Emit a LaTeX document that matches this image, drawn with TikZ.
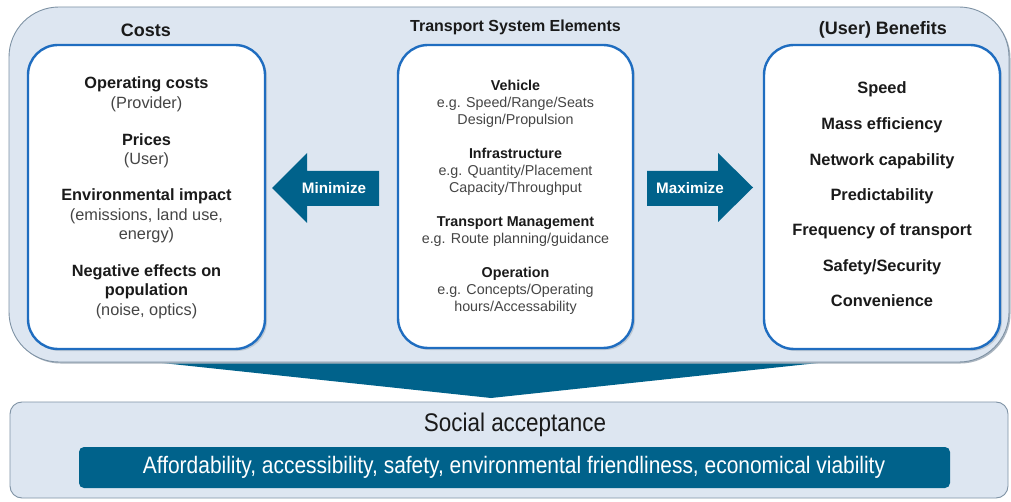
\documentclass[tikz,border=0pt]{standalone}
\usepackage{fontspec}
\setmainfont{Liberation Sans}
\newfontfamily\narrowfont[FakeStretch=0.88]{Liberation Sans}
\definecolor{panelfill}{HTML}{DDE6F1}
\definecolor{panelline}{HTML}{7F93A5}
\definecolor{shadowc}{HTML}{A9B4BF}
\definecolor{boxline}{HTML}{1F6DC0}
\definecolor{tealc}{HTML}{00628B}
\definecolor{txt}{HTML}{1A1A1A}
\definecolor{subtxt}{HTML}{454545}
\tikzset{
  panel/.style={fill=panelfill, draw=panelline, line width=0.9pt},
  itembox/.style={fill=white, draw=boxline, line width=2.4pt, rounded corners=30pt},
  boxshadow/.style={fill=shadowc, opacity=0.6, rounded corners=30pt},
  arrowshape/.style={fill=tealc},
  title/.style={font=\fontsize{18}{21}\selectfont\bfseries, text=txt, inner sep=0pt},
  midtitle/.style={font=\fontsize{16}{19}\selectfont\bfseries, text=txt, inner sep=0pt},
  costitem/.style={font=\fontsize{16.3}{19.5}\selectfont, text=subtxt, align=center, inner sep=0pt},
  miditem/.style={font=\fontsize{14.3}{17}\selectfont, text=subtxt, align=center, inner sep=0pt},
  benitem/.style={font=\fontsize{16.4}{19}\selectfont\bfseries, text=txt, inner sep=0pt},
  arrowtext/.style={font=\fontsize{15.2}{18}\selectfont\bfseries, text=white, inner sep=0pt},
}
\newcommand{\hd}[1]{{\bfseries\color{txt}#1}}
\begin{document}
\begin{tikzpicture}[x=1pt,y=-1pt]
\useasboundingbox (0,0) rectangle (1011,502);
\fill[white] (0,0) rectangle (1011,502);

% big downward chevron (behind panel)
\fill[tealc] (134,360) -- (846,360) -- (491,398) -- cycle;

% top panel with shadow
\fill[shadowc, rounded corners=50pt] (10.5,8.5) rectangle (1010.5,363.5);
\draw[panel, rounded corners=50pt] (9,7) rectangle (1009,362);

% three boxes
\fill[boxshadow] (30,47) rectangle (267,351);
\fill[boxshadow] (400,47) rectangle (635,350);
\fill[boxshadow] (766,47) rectangle (1002,351);
\draw[itembox] (28,45) rectangle (265,349);
\draw[itembox] (398,45) rectangle (633,348);
\draw[itembox] (764,45) rectangle (1000,349);

% titles
\node[title] (tcost) at (146,30) {Costs};
\node[midtitle] (tmid) at (515.5,27) {Transport System Elements};
\node[title] (tben) at (883,30) {(User) Benefits};

% cost items
\node[costitem] (c1) at (146.5,94.5) {\hd{Operating costs}\\(Provider)};
\node[costitem] (c2) at (146.5,151) {\hd{Prices}\\(User)};
\node[costitem] (c3) at (146.5,216) {\hd{Environmental impact}\\(emissions, land use,\\energy)};
\node[costitem] (c4) at (146.5,291.5) {\hd{Negative effects on}\\\hd{population}\\(noise, optics)};

% middle items
\node[miditem] (m1) at (515.5,104) {\hd{Vehicle}\\e.g. Speed/Range/Seats\\Design/Propulsion};
\node[miditem] (m2) at (515.5,172) {\hd{Infrastructure}\\e.g. Quantity/Placement\\Capacity/Throughput};
\node[miditem] (m3) at (515.5,232) {\hd{Transport Management}\\e.g. Route planning/guidance};
\node[miditem] (m4) at (515.5,291) {\hd{Operation}\\e.g. Concepts/Operating\\hours/Accessability};

% benefit items
\node[benitem] (b1) at (882,89) {Speed};
\node[benitem] (b2) at (882,125) {Mass efficiency};
\node[benitem] (b3) at (882,161) {Network capability};
\node[benitem] (b4) at (882,196) {Predictability};
\node[benitem] (b5) at (882,231) {Frequency of transport};
\node[benitem] (b6) at (882,267) {Safety/Security};
\node[benitem] (b7) at (882,301) {Convenience};

% minimize arrow
\fill[arrowshape] (379,171) -- (307,171) -- (307,153) -- (272,188) -- (307,223) -- (307,206) -- (379,206) -- cycle;
\node[arrowtext] (mini) at (334,188) {Minimize};
% maximize arrow
\fill[arrowshape] (647,171) -- (718,171) -- (718,153) -- (753,187.5) -- (718,222) -- (718,206) -- (647,206) -- cycle;
\node[arrowtext] (maxi) at (690,188) {Maximize};

% bottom panel
\draw[panel, rounded corners=12pt] (10,402) rectangle (1008,498);
\node[font=\narrowfont\fontsize{25.5}{28}\selectfont, text=txt, inner sep=0pt] (soc) at (515,425) {Social acceptance};
\fill[tealc, rounded corners=5pt] (79,447) rectangle (950,488);
\node[font=\narrowfont\fontsize{23.8}{26}\selectfont, text=white, inner sep=0pt] (aff) at (514,467) {Affordability, accessibility, safety, environmental friendliness, economical viability};
\end{tikzpicture}
\end{document}
